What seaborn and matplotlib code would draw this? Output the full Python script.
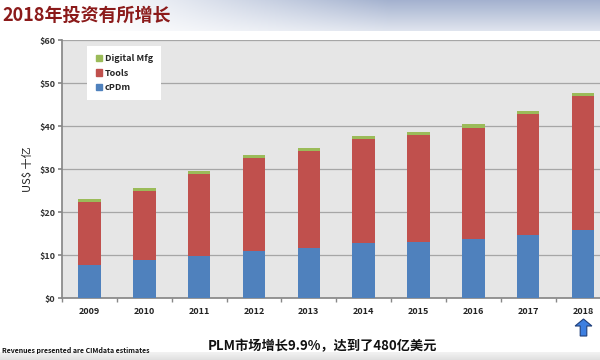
import numpy as np
import pandas as pd
import seaborn as sns
import matplotlib.pyplot as plt
from matplotlib.patches import Patch, FancyArrow

# values (US$ billions)
years = ['2009', '2010', '2011', '2012', '2013', '2014', '2015', '2016', '2017', '2018']
cpdm = [7.7, 8.8, 9.8, 11.1, 11.7, 12.8, 13.0, 13.9, 14.8, 16.0]
tools = [14.7, 16.2, 19.2, 21.6, 22.5, 24.2, 24.9, 25.8, 28.0, 31.0]
digital_mfg = [0.6, 0.6, 0.6, 0.6, 0.7, 0.7, 0.7, 0.8, 0.8, 0.8]
y_ticks = [0, 10, 20, 30, 40, 50, 60]

c_blue, c_red, c_green = '#4F81BD', '#C0504D', '#9BBB59'

df = pd.DataFrame({'year': years, 'cPDm': cpdm, 'Tools': tools, 'Digital Mfg': digital_mfg})
df['top_red'] = df['cPDm'] + df['Tools']
df['top_green'] = df['top_red'] + df['Digital Mfg']

sns.set_theme(style='white')
plt.rcParams['font.family'] = ['Noto Sans CJK SC', 'DejaVu Sans']

fig = plt.figure(figsize=(6, 3.6), dpi=100)

# title band gradient
bg = fig.add_axes([0, 0.915, 1, 0.085], zorder=0)
gx = np.linspace(0, 1, 200)
gy = np.linspace(0, 1, 30)
X, Y = np.meshgrid(gx, gy)
a = np.clip((X - 0.15) / 0.5, 0, 1) * (0.35 + 0.65 * Y)
top = np.array([164, 178, 207]) / 255
img = (1 - a[..., None]) * 1.0 + a[..., None] * top
bg.imshow(img, aspect='auto', origin='lower', extent=[0, 1, 0, 1])
bg.axis('off')

# bottom band
bb = fig.add_axes([0, 0, 1, 0.022], zorder=0)
gy2 = np.linspace(0, 1, 10)[:, None] * np.ones((1, 10))
bimg = np.dstack([0.88 + 0.07 * gy2] * 3)
bb.imshow(bimg, aspect='auto', origin='lower', extent=[0, 1, 0, 1])
bb.axis('off')

ax = fig.add_axes([62 / 600, 1 - 298.3 / 360, 548.5 / 600, 258 / 360])
ax.set_facecolor('#E6E6E6')

for col, c in [('top_green', c_green), ('top_red', c_red), ('cPDm', c_blue)]:
    sns.barplot(data=df, x='year', y=col, color=c, width=0.41, saturation=1,
                linewidth=0, edgecolor=c, ax=ax, zorder=3)

ax.set_ylim(0, 60)
ax.set_xlim(-0.5, 9.5)
ax.set_yticks(y_ticks)
ax.set_yticklabels(['$%d' % v for v in y_ticks], fontsize=6.5, fontweight='bold', color='#333333')
ax.tick_params(axis='x', labelsize=6.5, length=0, pad=6)
for lab in ax.get_xticklabels():
    lab.set_fontweight('bold')
    lab.set_color('#222222')
ax.set_xticks(np.arange(-0.5, 10, 1), minor=True)
ax.tick_params(axis='x', which='minor', length=3, color='#888888', bottom=True)
ax.tick_params(axis='y', length=3, color='#888888', left=True, pad=2)
ax.yaxis.grid(True, color='#A6A6A6', linewidth=0.9, zorder=1)
ax.set_axisbelow(True)
ax.set_xlabel('')
ax.set_ylabel('US$ 十亿', fontsize=8, color='#222222', labelpad=4)
for s in ['top', 'right']:
    ax.spines[s].set_visible(False)
ax.spines['left'].set_color('#888888')
ax.spines['bottom'].set_color('#888888')

handles = [Patch(color=c_green, label='Digital Mfg'),
           Patch(color=c_red, label='Tools'),
           Patch(color=c_blue, label='cPDm')]
leg = ax.legend(handles=handles, loc='upper left', bbox_to_anchor=(0.043, 0.985),
                fontsize=6.5, frameon=True, fancybox=False, framealpha=1,
                edgecolor='white', handlelength=0.7, handleheight=0.7,
                handletextpad=0.3, labelspacing=0.6, borderpad=0.6)
leg.get_frame().set_linewidth(0)
leg.get_frame().set_boxstyle('square', pad=0.3)
for t in leg.get_texts():
    t.set_fontweight('bold')

fig.text(0.004, 0.985, '2018年投资有所增长', fontsize=13, fontweight='bold',
         style='italic', color='#8B1A1A', va='top', ha='left')
fig.text(0.538, 1 - 346 / 360, 'PLM市场增长9.9%，达到了480亿美元', fontsize=9.5,
         fontweight='bold', color='#111111', ha='center', va='center')
fig.text(0.004, 1 - 351 / 360, 'Revenues presented are CIMdata estimates', fontsize=5,
         fontweight='bold', color='#111111', ha='left', va='center')

arrow = FancyArrow(583.5 / 600, 1 - 336 / 360, 0, 17 / 360, width=0.011,
                   head_width=0.028, head_length=7 / 360, length_includes_head=True,
                   transform=fig.transFigure, facecolor='#3D7FE0', edgecolor='#1F3F7A',
                   linewidth=0.8)
fig.add_artist(arrow)

fig.savefig('out.png', dpi=100)
